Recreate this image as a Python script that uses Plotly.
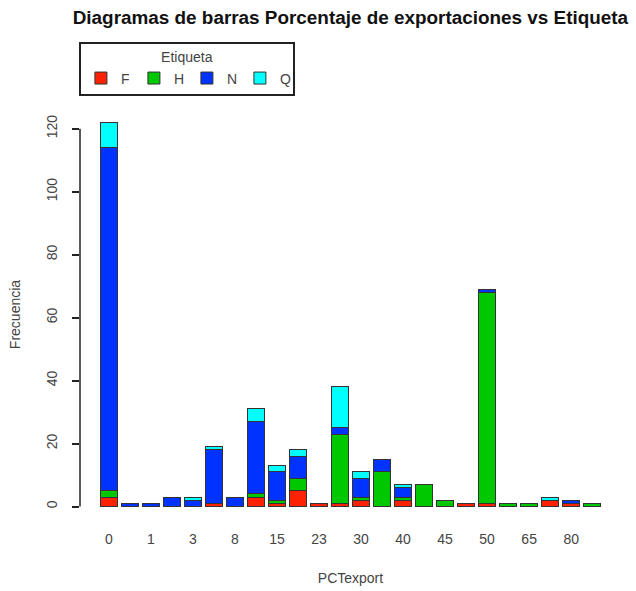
import plotly.graph_objects as go

# PCTexport categories (only every other one gets a visible tick label, as in R)
categorias = ["0", "0.5", "1", "2", "3", "5", "8", "10", "15", "20", "23", "25",
              "30", "35", "40", "42", "45", "48", "50", "60", "65", "70", "80", "90"]

# Frecuencia per Etiqueta
frec_F = [3, 0, 0, 0, 0, 1, 0, 3, 1, 5, 1, 1, 2, 0, 2, 0, 0, 1, 1, 0, 0, 2, 1, 0]
frec_H = [2, 0, 0, 0, 0, 0, 0, 1, 1, 4, 0, 22, 1, 11, 1, 7, 2, 0, 67, 1, 1, 0, 0, 1]
frec_N = [109, 1, 1, 3, 2, 17, 3, 23, 9, 7, 0, 2, 6, 4, 3, 0, 0, 0, 1, 0, 0, 0, 1, 0]
frec_Q = [8, 0, 0, 0, 1, 1, 0, 4, 2, 2, 0, 13, 2, 0, 1, 0, 0, 0, 0, 0, 0, 1, 0, 0]

etiquetas = ["F", "H", "N", "Q"]
colores = ["#FF2200", "#00C800", "#0033FF", "#00FFFF"]

y_ticks = [0, 20, 40, 60, 80, 100, 120]
x_tick_labels = categorias[::2]

FONT = "Liberation Sans, Arial, sans-serif"

fig = go.Figure()
for nombre, valores, color in zip(etiquetas, [frec_F, frec_H, frec_N, frec_Q], colores):
    fig.add_trace(
        go.Bar(
            x=categorias,
            y=valores,
            name=nombre,
            marker=dict(color=color, line=dict(color="#333333", width=1)),
        )
    )

fig.update_layout(
    barmode="stack",
    bargap=0.167,
    width=636,
    height=591,
    margin=dict(l=80, r=15, t=107, b=69, autoexpand=False),
    plot_bgcolor="white",
    paper_bgcolor="white",
    font=dict(family=FONT, size=14, color="#444444"),
    title=dict(
        text="<b>Diagramas de barras Porcentaje de exportaciones vs Etiqueta</b>",
        x=0.551,
        xanchor="center",
        y=1 - 17 / 591,
        yanchor="middle",
        font=dict(size=18.9, color="#111111"),
    ),
    legend=dict(
        title=dict(text="Etiqueta", side="top center", font=dict(size=14)),
        orientation="h",
        x=-0.002,
        xanchor="left",
        y=1.156,
        yanchor="top",
        bordercolor="#222222",
        borderwidth=2,
        entrywidth=8,
        entrywidthmode="pixels",
        font=dict(size=14),
        traceorder="normal",
    ),
)

fig.update_xaxes(
    range=[-1.37, 24.37],
    tickmode="array",
    tickvals=x_tick_labels,
    ticktext=x_tick_labels,
    showline=False,
    showgrid=False,
    zeroline=False,
    ticks="",
    ticklabelstandoff=7,
    automargin=False,
    title=dict(text="PCTexport", standoff=27, font=dict(size=14)),
)

fig.update_yaxes(
    range=[-4.9, 126.9],
    tickmode="array",
    tickvals=y_ticks,
    showline=False,
    showgrid=False,
    zeroline=False,
    ticks="outside",
    ticklen=7,
    tickcolor="#222222",
    tickwidth=1.5,
    tickangle=-90,
    ticklabelstandoff=9,
    automargin=False,
    title=dict(text="Frecuencia", standoff=20, font=dict(size=14)),
)

# y axis line in R only spans the tick range
fig.add_shape(
    type="line", xref="paper", yref="y",
    x0=0, x1=0, y0=y_ticks[0], y1=y_ticks[-1],
    line=dict(color="#222222", width=1.5),
)

# drop the default 8px page margin so the figure sits at the window corner
fig.write_html(
    "out.html",
    config={"displayModeBar": False},
    post_script="document.body.style.margin = '0';",
)
